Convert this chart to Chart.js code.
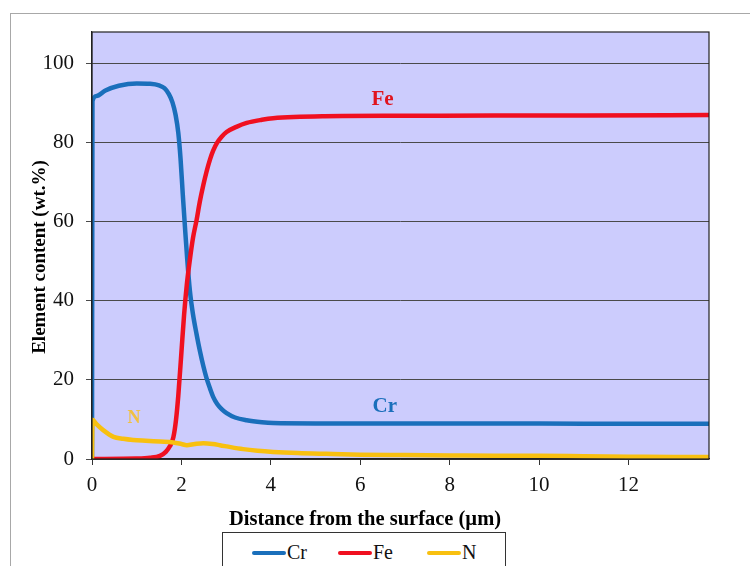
<!DOCTYPE html>
<html>
<head>
<meta charset="utf-8">
<script src="https://cdn.jsdelivr.net/npm/chart.js@4.4.1/dist/chart.umd.min.js"></script>
<style>
  html, body { margin: 0; padding: 0; background: #fff; overflow: hidden; }
  #wrap { position: relative; width: 750px; height: 566px; }
  #frame { position: absolute; left: 10px; top: 13px; width: 800px; height: 700px; border: 1px solid #a8a8a8; }
  #chart { position: absolute; left: 0; top: 0; }
  #legend {
    position: absolute; left: 222px; top: 532px; width: 282px; height: 60px;
    border: 1px solid #333; background: #fff;
    font-family: "Liberation Serif", serif; font-size: 20px; color: #111;
  }
  #legend .item { position: absolute; top: 8px; display: flex; align-items: center; }
  #legend .swatch { display: inline-block; width: 34px; height: 4px; border-radius: 2px; margin-right: 1px; }
</style>
</head>
<body>
<div id="wrap">
  <div id="frame"></div>
  <canvas id="chart" width="750" height="566"></canvas>
  <div id="legend"></div>
</div>
<script>
// depth profile (x: µm, y: wt.%)
const crX = [0, 0.01, 0.1, 0.3, 0.6, 1.0, 1.3, 1.5, 1.62, 1.72, 1.8, 1.87, 1.93, 1.98, 2.03, 2.08, 2.13, 2.19, 2.26, 2.34, 2.41, 2.49, 2.56, 2.64, 2.71, 2.8, 2.9, 3.01, 3.2, 3.46, 3.8, 4.05, 5, 7, 9, 11, 12.5, 13.8];
const crY = [0, 90.5, 91.8, 93.2, 94.4, 95.0, 94.9, 94.5, 93.8, 92.3, 90.2, 87, 82.5, 76, 67, 58.5, 50.5, 42.5, 36.5, 31.5, 27.5, 23.5, 20.5, 17.8, 15.7, 13.9, 12.6, 11.6, 10.5, 9.8, 9.3, 9.1, 9.0, 9.0, 9.0, 8.9, 8.9, 8.9];

const feX = [0, 1.0, 1.3, 1.52, 1.65, 1.74, 1.82, 1.88, 1.93, 2.0, 2.06, 2.12, 2.19, 2.26, 2.34, 2.41, 2.49, 2.56, 2.64, 2.71, 2.8, 2.9, 3.01, 3.23, 3.46, 3.8, 4.05, 5.2, 7, 9, 11, 13.8];
const feY = [0, 0.1, 0.3, 0.8, 1.8, 3.2, 5.5, 10, 16, 27, 36.5, 44, 50.5, 56, 60.5, 65, 69.3, 72.6, 75.8, 78, 80, 81.5, 82.7, 84, 85, 85.8, 86.2, 86.7, 86.8, 86.9, 86.9, 87.0];

const nX = [0, 0.01, 0.1, 0.25, 0.48, 0.7, 0.92, 1.2, 1.52, 1.82, 2.0, 2.12, 2.3, 2.49, 2.7, 2.86, 3.1, 3.38, 3.7, 4.05, 4.6, 5.24, 6, 7, 8, 9, 10, 11, 12, 13, 13.8];
const nY = [0, 9.9, 8.8, 7.3, 5.6, 5.1, 4.8, 4.6, 4.4, 4.2, 3.8, 3.5, 3.8, 4.0, 3.8, 3.5, 3.0, 2.5, 2.1, 1.8, 1.5, 1.3, 1.1, 1.0, 0.9, 0.8, 0.8, 0.7, 0.6, 0.5, 0.5];

const seriesNames = ["Cr", "Fe", "N"];
const seriesColors = ["#1a6fbb", "#f01020", "#f8c010"];
const curveLabels = [
  { text: "Fe", x: 6.5, y: 91.0, color: "#e0141e", size: 21 },
  { text: "Cr", x: 6.55, y: 13.2, color: "#1a6fbb", size: 21 },
  { text: "N", x: 0.94, y: 10.4, color: "#f0c040", size: 18 }
];
const xTitle = "Distance from the surface (µm)";
const yTitle = "Element content (wt.%)";

const pts = (xs, ys) => xs.map((x, i) => ({ x, y: ys[i] }));
const serif = "'Liberation Serif', 'Times New Roman', serif";

// plot background, frame, in-plot labels and axis titles
const decor = {
  id: "decor",
  beforeDraw(chart) {
    const { ctx, chartArea: a } = chart;
    ctx.save();
    ctx.fillStyle = "#ccccfd";
    ctx.fillRect(a.left, a.top, a.right - a.left, a.bottom - a.top);
    ctx.restore();
  },
  afterDatasetsDraw(chart) {
    const { ctx, chartArea: a, scales } = chart;
    ctx.save();
    ctx.strokeStyle = "#222";
    ctx.lineWidth = 1.2;
    ctx.strokeRect(a.left, a.top, a.right - a.left, a.bottom - a.top);
    ctx.textAlign = "center";
    ctx.textBaseline = "middle";
    curveLabels.forEach(l => {
      ctx.font = `bold ${l.size}px ${serif}`;
      ctx.fillStyle = l.color;
      ctx.fillText(l.text, scales.x.getPixelForValue(l.x), scales.y.getPixelForValue(l.y));
    });
    ctx.fillStyle = "#000";
    ctx.font = `bold 20.5px ${serif}`;
    ctx.fillText(xTitle, 365, 520);
    ctx.translate(40, 257);
    ctx.rotate(-Math.PI / 2);
    ctx.font = `bold 19px ${serif}`;
    ctx.fillText(yTitle, 0, 0);
    ctx.restore();
  }
};

const mk = (i, xs, ys) => ({
  label: seriesNames[i],
  data: pts(xs, ys),
  borderColor: seriesColors[i],
  backgroundColor: seriesColors[i],
  borderWidth: 4.5,
  pointRadius: 0,
  cubicInterpolationMode: "monotone",
  fill: false
});

new Chart(document.getElementById("chart"), {
  type: "line",
  data: {
    datasets: [mk(2, nX, nY), mk(1, feX, feY), mk(0, crX, crY)]
  },
  options: {
    responsive: false,
    animation: false,
    layout: { padding: { top: 32, right: 41, bottom: 31, left: 0 } },
    plugins: { legend: { display: false }, tooltip: { enabled: false } },
    scales: {
      x: {
        type: "linear",
        min: 0,
        max: 13.8,
        afterFit(s) { s.height = 76; },
        ticks: { stepSize: 2, includeBounds: false, padding: 8, color: "#111", font: { family: serif, size: 21 } },
        grid: { drawOnChartArea: false, drawTicks: true, tickLength: 6, color: "#333" },
        border: { color: "#222", width: 1.2 }
      },
      y: {
        min: 0,
        max: 108,
        afterFit(s) { s.width = 92; },
        ticks: { stepSize: 20, includeBounds: false, padding: 12, color: "#111", font: { family: serif, size: 21 } },
        grid: { color: "#4a4a4a", lineWidth: 1, tickLength: 6 },
        border: { color: "#222", width: 1.2 }
      }
    }
  },
  plugins: [decor]
});

// legend box below the chart
const legend = document.getElementById("legend");
const legendLeft = [29, 115, 204];
seriesNames.forEach((name, i) => {
  const item = document.createElement("div");
  item.className = "item";
  item.style.left = legendLeft[i] + "px";
  item.innerHTML = `<span class="swatch" style="background:${seriesColors[i]}"></span><span>${name}</span>`;
  legend.appendChild(item);
});
</script>
</body>
</html>
